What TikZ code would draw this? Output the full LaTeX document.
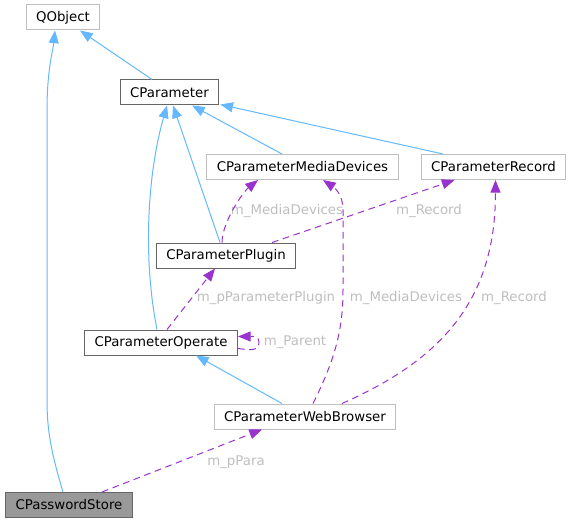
\documentclass[tikz,border=0pt]{standalone}
\usepackage{fontspec}
\setmainfont{DejaVu Sans}
\usetikzlibrary{positioning}
\usetikzlibrary{arrows.meta,calc}
\usepackage{xcolor}
\definecolor{inheritblue}{HTML}{63B8FF}
\definecolor{usepurple}{HTML}{9A32CD}
\definecolor{labelgrey}{HTML}{BEBEBE}
\definecolor{lightedge}{HTML}{BFBFBF}
\definecolor{darkedge}{HTML}{666666}
\definecolor{storefill}{HTML}{999999}

\begin{document}
\begin{tikzpicture}[x=0.75pt, y=-0.75pt, font=\fontsize{10}{12}\selectfont,
    box/.style={draw, minimum height=18.75pt, inner xsep=7.5pt, inner ysep=0pt, line width=0.75pt},
    lightbox/.style={box, draw=lightedge},
    darkbox/.style={box, draw=darkedge},
    inherit/.style={draw=inheritblue, line width=0.75pt, -{Triangle[length=9.5pt,width=7.5pt]}},
    uses/.style={draw=usepurple, line width=0.75pt, dash pattern=on 5pt off 3.5pt, -{Triangle[length=9.5pt,width=7.5pt]}},
    lbl/.style={text=labelgrey, inner sep=0pt}]
    \useasboundingbox (0,0) rectangle (571,524);

    \node [lightbox] (qobject) at (63,17.5) {QObject};
    \node [darkbox] (param) at (169.5,92.5) {CParameter};
    \node [lightbox] (media) at (302.5,167) {CParameterMediaDevices};
    \node [lightbox] (record) at (493.5,167) {CParameterRecord};
    \node [darkbox] (plugin) at (226,255.5) {CParameterPlugin};
    \node [darkbox] (operate) at (161,342.5) {CParameterOperate};
    \node [lightbox] (browser) at (305,416.5) {CParameterWebBrowser};
    \node [darkbox, fill=storefill] (store) at (69,505) {CPasswordStore};

    % member labels
    \node [lbl] (lmedia1) at (287,211) {m\_MediaDevices};
    \node [lbl] (lrecord1) at (429,211) {m\_Record};
    \node [lbl] (lplugin) at (266,298) {m\_pParameterPlugin};
    \node [lbl] (lmedia2) at (406,298) {m\_MediaDevices};
    \node [lbl] (lrecord2) at (514,298) {m\_Record};
    \node [lbl] (lparent) at (295,342) {m\_Parent};
    \node [lbl] (lpara) at (236,462) {m\_pPara};

    % inheritance
    \draw [inherit] ($(param.north)+(-17.5,0)$) -- ($(qobject.south)+(17,0)$);
    \draw [inherit] ($(store.north)+(-6,0)$) .. controls +(-12,-40) and +(0,30) .. (47,400)
        -- (47,110) .. controls +(0,-40) and +(-2,20) .. ($(qobject.south)+(-8,0)$);
    \draw [inherit] ($(operate.north)+(-4,0)$) .. controls +(-14,-70) and +(-20,70) .. ($(param.south)+(-2.5,0)$);
    \draw [inherit] ($(plugin.north)+(-6,0)$) -- ($(param.south)+(3.5,0)$);
    \draw [inherit] ($(media.north)+(-20.5,0)$) -- ($(param.south)+(22.5,0)$);
    \draw [inherit] ($(record.north)+(-50.5,0)$) -- ($(param.south east)+(1,-1)$);
    \draw [inherit] ($(browser.north)+(-23,0)$) -- ($(operate.south)+(35,0)$);

    % usage
    \draw [uses] ($(store.north)+(33,0)$) -- ($(browser.south)+(-43,0)$);
    \draw [uses] ($(plugin.north)+(-4,0)$) .. controls +(0,-20) and +(-15,12) .. ($(media.south)+(-44.5,0)$);
    \draw [uses] ($(plugin.north)+(46,0)$) -- ($(record.south)+(-39,0)$);
    \draw [uses] ($(operate.north)+(6,0)$) -- ($(plugin.south)+(-11,0)$);
    \draw [uses] ($(operate.east)+(0,6)$) .. controls +(14,2) and +(0,8) .. ($(operate.east)+(21,0)$)
        .. controls +(0,-8) and +(12,0) .. ($(operate.east)+(0,-6)$);
    \draw [uses] ($(browser.north)+(8,0)$) .. controls +(22,-44) and +(0,40) .. (343,290)
        -- (343,210) .. controls +(0,-15) and +(12,8) .. ($(media.south)+(20.5,0)$);
    \draw [uses] ($(browser.north)+(37,0)$) .. controls +(100,-44) and +(0,120) .. ($(record.south)+(2,0)$);
\end{tikzpicture}
\end{document}
